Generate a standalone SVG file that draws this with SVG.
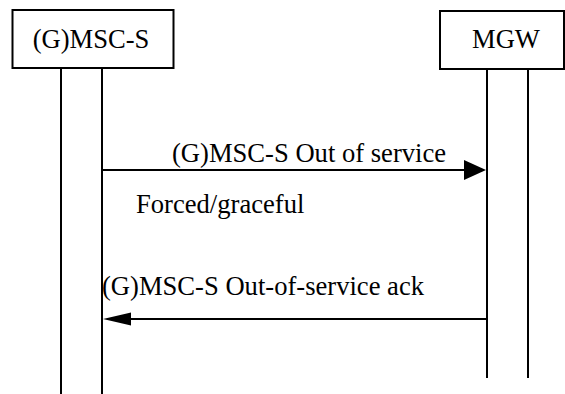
<svg xmlns="http://www.w3.org/2000/svg" width="565" height="394" viewBox="0 0 565 394">
<style>
.box{fill:#fff;stroke:#000;stroke-width:2}
.ln{stroke:#000;stroke-width:2;fill:none}
.t{font-family:'Liberation Serif','Times New Roman',serif;font-size:26.6px;fill:#000}
</style>
<rect width="565" height="394" fill="#fff"/>
<g id="msc">
<rect class="box" x="12.5" y="10" width="161" height="58"/>
<text class="t" x="91" y="47.5" text-anchor="middle">(G)MSC-S</text>
<line class="ln" x1="61" y1="68" x2="61" y2="394"/>
<line class="ln" x1="102" y1="68" x2="102" y2="394"/>
</g>
<g id="mgw">
<rect class="box" x="440" y="11" width="124" height="58"/>
<text class="t" x="506" y="47.5" text-anchor="middle">MGW</text>
<line class="ln" x1="487" y1="69" x2="487" y2="378"/>
<line class="ln" x1="528" y1="69" x2="528" y2="378"/>
</g>
<g id="connectors">
<line class="ln" x1="102" y1="170" x2="466" y2="170"/>
<polygon points="464,160 486,170 464,180" fill="#000"/>
<text class="t" x="172" y="161.5">(G)MSC-S Out of service</text>
<text class="t" x="136" y="213">Forced/graceful</text>
<line class="ln" x1="130" y1="319" x2="487" y2="319"/>
<polygon points="103,319 131,312.5 131,325.5" fill="#000"/>
<text class="t" x="102" y="295">(G)MSC-S Out-of-service ack</text>
</g>
</svg>
